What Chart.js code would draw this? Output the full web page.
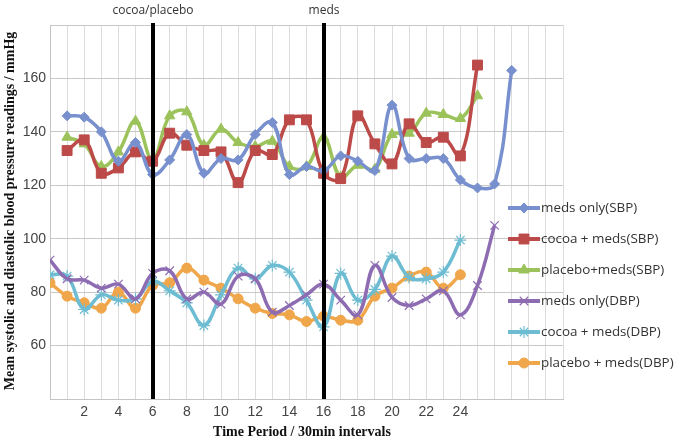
<!DOCTYPE html>
<html>
<head>
<meta charset="utf-8">
<script src="https://cdn.jsdelivr.net/npm/chart.js@4.4.1/dist/chart.umd.min.js"></script>
<style>
    html, body { margin: 0; padding: 0; background: #ffffff; }
    #bpChart { display: block; }
</style>
</head>
<body>
<canvas id="bpChart" width="677" height="443"></canvas>
<script>
  // Data
  const sbpTimes = [1, 2, 3, 4, 5, 6, 7, 8, 9, 10, 11, 12, 13, 14, 15, 16, 17, 18, 19, 20, 21, 22, 23, 24, 25, 26, 27];
  const dbpTimes = [0, 1, 2, 3, 4, 5, 6, 7, 8, 9, 10, 11, 12, 13, 14, 15, 16, 17, 18, 19, 20, 21, 22, 23, 24, 25, 26];

  const medsOnlySBP = [146, 145.5, 140, 129, 136, 124, 129.5, 139, 124.5, 130, 129.5, 139, 143.5, 124, 127, 125.5, 131, 129, 125.5, 150, 130, 130, 130, 122, 119, 120.5, 163];
  const cocoaSBP = [133, 137, 124.5, 126.5, 132.5, 129, 139.5, 135, 133, 132.5, 121, 133, 131.5, 144.5, 144.5, 124.5, 122.5, 146, 135.5, 128, 143, 136, 138, 131, 165];
  const placeboSBP = [138, 135.5, 127, 132.5, 144, 129.5, 146, 147.5, 135, 141, 136, 134.5, 136.5, 127, 127, 138, 123, 127.5, 126, 139, 139.5, 147, 146.5, 145, 153.5];
  const medsOnlyDBP = [92, 85, 84.5, 81.5, 83, 77.5, 87, 88, 77.5, 80, 75.5, 86, 85, 72.5, 75, 79, 83, 77, 71.5, 90, 78, 75, 77.5, 80.5, 71.5, 82.5, 105];
  const cocoaDBP = [86.5, 86, 73.5, 79, 77, 77.5, 84, 80.5, 76, 67.5, 79, 89, 85, 90, 87.5, 77, 67, 87, 77, 81, 93.5, 85.5, 85, 87.5, 99.5];
  const placeboDBP = [83.5, 78.5, 76, 74, 80, 74, 82.5, 83.5, 89, 84.5, 81.5, 77.5, 74, 72, 71.5, 69, 71, 69.5, 69.5, 78.5, 81.5, 86, 87.5, 81.5, 86.5];

  const xTickLabels = [2, 4, 6, 8, 10, 12, 14, 16, 18, 20, 22, 24];
  const yTickLabels = [60, 80, 100, 120, 140, 160];
  const phaseMarks = [6, 16];
  const phaseLabels = ['cocoa/placebo', 'meds'];

  const pair = (times, values) => values.map((v, i) => ({ x: times[i], y: v }));

  function series(label, times, values, color, style, radius) {
      return {
          label: label,
          data: pair(times, values),
          borderColor: color,
          backgroundColor: color,
          borderWidth: 3.5,
          tension: 0.4,
          pointStyle: style,
          pointRadius: radius,
          pointBorderWidth: (style === 'crossRot' || style === 'star') ? 1.2 : 1,
          pointBorderColor: color,
          pointBackgroundColor: color
      };
  }

  const datasets = [
      series('meds only(SBP)', sbpTimes, medsOnlySBP, '#7890cd', 'rectRot', 5),
      series('cocoa + meds(SBP)', sbpTimes, cocoaSBP, '#bc4a48', 'rect', 7),
      series('placebo+meds(SBP)', sbpTimes, placeboSBP, '#9cc35b', 'triangle', 6),
      series('meds only(DBP)', dbpTimes, medsOnlyDBP, '#8d6cb2', 'crossRot', 6),
      series('cocoa + meds(DBP)', dbpTimes, cocoaDBP, '#6dbcd2', 'star', 6),
      series('placebo + meds(DBP)', dbpTimes, placeboDBP, '#f0a64a', 'circle', 5)
  ];

  // Phase lines, axis titles and legend
  const decorations = {
      id: 'decorations',
      afterDatasetsDraw(chart) {
          const ctx = chart.ctx;
          const area = chart.chartArea;
          const xs = chart.scales.x;
          ctx.save();
          phaseMarks.forEach((t, i) => {
              const px = Math.round(xs.getPixelForValue(t));
              ctx.fillStyle = '#000000';
              ctx.fillRect(px - 2, area.top - 2, 4, area.bottom - area.top + 2);
              ctx.font = '12px "Open Sans"';
              ctx.fillStyle = '#333333';
              ctx.textAlign = 'center';
              ctx.textBaseline = 'middle';
              ctx.fillText(phaseLabels[i], px, 11);
          });
          ctx.restore();
      },
      afterDraw(chart) {
          const ctx = chart.ctx;
          ctx.save();
          ctx.fillStyle = '#111111';
          ctx.font = 'bold 14px "Liberation Serif"';
          ctx.textAlign = 'center';
          ctx.textBaseline = 'middle';
          ctx.fillText('Time Period / 30min intervals', 302, 432);
          ctx.translate(10, 211);
          ctx.rotate(-Math.PI / 2);
          ctx.fillText('Mean systolic and diastolic blood pressure readings / mmHg', 0, 0);
          ctx.restore();

          // legend
          ctx.save();
          chart.data.datasets.forEach((ds, i) => {
              const y = 208 + i * 31;
              ctx.strokeStyle = ds.borderColor;
              ctx.lineWidth = 4;
              ctx.beginPath();
              ctx.moveTo(508, y);
              ctx.lineTo(540, y);
              ctx.stroke();
              ctx.fillStyle = ds.backgroundColor;
              ctx.lineWidth = ds.pointBorderWidth;
              Chart.helpers.drawPoint(ctx, { pointStyle: ds.pointStyle, radius: ds.pointRadius, rotation: 0, borderWidth: ds.pointBorderWidth }, 524, y);
              ctx.fillStyle = '#333333';
              ctx.font = '13.4px "Open Sans"';
              ctx.textAlign = 'left';
              ctx.textBaseline = 'middle';
              ctx.fillText(ds.label, 541, y);
          });
          ctx.restore();
      }
  };

  const ctx = document.getElementById('bpChart').getContext('2d');
  const chart = new Chart(ctx, {
      type: 'line',
      data: { datasets: datasets },
      plugins: [decorations],
      options: {
          responsive: false,
          animation: false,
          layout: { padding: { left: 0, top: 25, right: 114, bottom: 0 } },
          plugins: {
              legend: { display: false },
              tooltip: { enabled: false }
          },
          scales: {
              x: {
                  type: 'linear',
                  min: 0,
                  max: 30,
                  afterFit: (scale) => { scale.height = 44; },
                  grid: { color: '#dcdcdc', drawTicks: false },
                  border: { color: '#c4c4c4' },
                  ticks: {
                      stepSize: 1,
                      autoSkip: false,
                      maxRotation: 0,
                      padding: 5,
                      color: '#444444',
                      font: { family: '"Liberation Sans"', size: 14 },
                      callback: (v) => xTickLabels.includes(v) ? String(v) : ''
                  }
              },
              y: {
                  min: 40,
                  max: 180,
                  afterFit: (scale) => { scale.width = 50; },
                  grid: { color: '#c8c8c8', drawTicks: false },
                  border: { color: '#c4c4c4' },
                  ticks: {
                      stepSize: 20,
                      padding: 4,
                      color: '#444444',
                      font: { family: '"Liberation Sans"', size: 14 },
                      callback: (v) => yTickLabels.includes(v) ? String(v) : ''
                  }
              }
          }
      }
  });
</script>
</body>
</html>
